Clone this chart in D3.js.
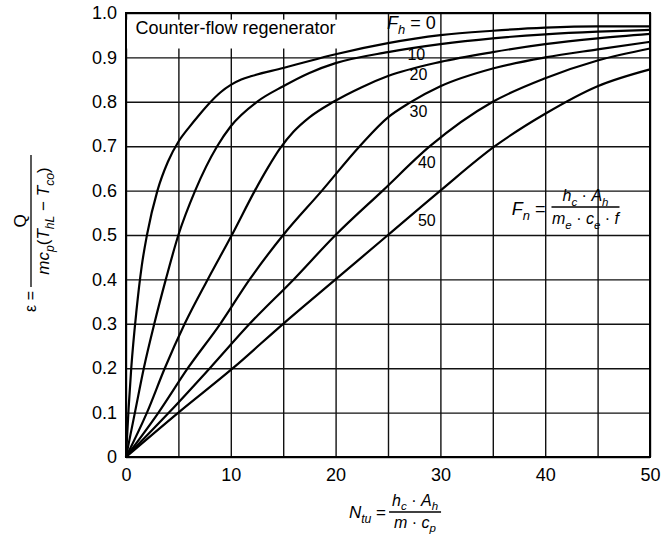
<!DOCTYPE html>
<html>
<head>
<meta charset="utf-8">
<script src="https://cdn.jsdelivr.net/npm/d3@7"></script>
<style>
  body { margin: 0; background: #fff; }
  text { font-family: "Liberation Sans", Arial, sans-serif; fill: #000; }
</style>
</head>
<body>
<div id="chart"></div>
<script>
// values
var fhNames = ["0", "10", "20", "30", "40", "50"];

var ntuF0 = [0, 0.25, 0.5, 1, 1.5, 2, 3, 4, 5, 6, 7, 8, 9, 10, 11, 12, 15, 17.5, 20, 25, 30, 35, 40, 45, 50];
var effF0 = [0, 0.11, 0.2, 0.33, 0.43, 0.5, 0.6, 0.665, 0.71, 0.742, 0.771, 0.798, 0.821, 0.838, 0.85, 0.858, 0.876, 0.892, 0.907, 0.932, 0.95, 0.96, 0.967, 0.97, 0.97];

var ntuF10 = [0, 0.85, 1.7, 2.7, 3.8, 5, 6.6, 8.7, 10, 12.5, 15, 17.5, 20, 25, 30, 35, 40, 45, 50];
var effF10 = [0, 0.1, 0.2, 0.3, 0.4, 0.5, 0.6, 0.7, 0.745, 0.8, 0.835, 0.865, 0.887, 0.912, 0.93, 0.943, 0.952, 0.958, 0.962];

var ntuF20 = [0, 2, 3.7, 5.6, 7.8, 10.1, 12.3, 13.5, 14.7, 16, 17.5, 19.8, 22.5, 25, 30, 35, 40, 45, 50];
var effF20 = [0, 0.1, 0.2, 0.3, 0.4, 0.5, 0.6, 0.65, 0.695, 0.733, 0.765, 0.8, 0.833, 0.858, 0.89, 0.912, 0.93, 0.943, 0.953];

var ntuF30 = [0, 3.1, 5.9, 9, 11.8, 15, 18.7, 22.3, 25, 27, 30, 35, 40, 45, 50];
var effF30 = [0, 0.1, 0.2, 0.3, 0.4, 0.5, 0.6, 0.7, 0.765, 0.797, 0.835, 0.875, 0.9, 0.918, 0.935];

var ntuF40 = [0, 4.1, 8, 11.8, 16, 20, 24.5, 29, 35, 40, 45, 50];
var effF40 = [0, 0.1, 0.2, 0.3, 0.4, 0.5, 0.6, 0.7, 0.8, 0.853, 0.893, 0.92];

var ntuF50 = [0, 5, 10.2, 15, 20, 25, 30, 35.2, 40, 45, 50];
var effF50 = [0, 0.1, 0.2, 0.3, 0.4, 0.5, 0.6, 0.7, 0.773, 0.835, 0.873];

var xTicks = [0, 10, 20, 30, 40, 50];
var xGrid = [0, 5, 10, 15, 20, 25, 30, 35, 40, 45, 50];
var yTicks = [0, 0.1, 0.2, 0.3, 0.4, 0.5, 0.6, 0.7, 0.8, 0.9, 1.0];

var curves = [
  { name: fhNames[0], ntu: ntuF0, eff: effF0 },
  { name: fhNames[1], ntu: ntuF10, eff: effF10 },
  { name: fhNames[2], ntu: ntuF20, eff: effF20 },
  { name: fhNames[3], ntu: ntuF30, eff: effF30 },
  { name: fhNames[4], ntu: ntuF40, eff: effF40 },
  { name: fhNames[5], ntu: ntuF50, eff: effF50 }
];

var width = 662, height = 544;

var svg = d3.select("#chart").append("svg")
    .attr("width", width)
    .attr("height", height);

svg.append("rect").attr("width", width).attr("height", height).attr("fill", "#fff");

var x = d3.scaleLinear().domain([0, 50]).range([126, 650]);
var y = d3.scaleLinear().domain([0, 1]).range([457, 13]);

// grid
var grid = svg.append("g");
grid.append("g")
    .attr("transform", "translate(0," + y(0) + ")")
    .call(d3.axisBottom(x).tickValues(xGrid).tickSize(-(y(0) - y(1))).tickFormat(""));
grid.append("g")
    .attr("transform", "translate(" + x(0) + ",0)")
    .call(d3.axisLeft(y).tickValues(yTicks).tickSize(-(x(50) - x(0))).tickFormat(""));
grid.selectAll(".domain").remove();
grid.selectAll("line").attr("stroke", "#111").attr("stroke-width", 1.4);

// white box behind the title
svg.append("rect")
    .attr("x", x(0) + 1).attr("y", y(0.985))
    .attr("width", x(25) - x(0) - 3).attr("height", y(0.92) - y(0.985))
    .attr("fill", "#fff");

svg.append("text")
    .attr("x", x(0.9)).attr("y", y(0.953))
    .attr("font-size", 18)
    .text("Counter-flow regenerator");

// frame
svg.append("rect")
    .attr("x", x(0)).attr("y", y(1))
    .attr("width", x(50) - x(0)).attr("height", y(0) - y(1))
    .attr("fill", "none").attr("stroke", "#000").attr("stroke-width", 2);

// curves
var line = d3.line()
    .x(function(d) { return x(d[0]); })
    .y(function(d) { return y(d[1]); })
    .curve(d3.curveMonotoneX);

svg.append("g").selectAll("path")
    .data(curves)
    .enter().append("path")
    .attr("d", function(c) { return line(c.ntu.map(function(n, i) { return [n, c.eff[i]]; })); })
    .attr("fill", "none")
    .attr("stroke", "#000")
    .attr("stroke-width", 2.2);

// axis tick labels
var xAxis = svg.append("g")
    .attr("transform", "translate(0," + y(0) + ")")
    .call(d3.axisBottom(x).tickValues(xTicks).tickSize(0).tickPadding(11));
var yAxis = svg.append("g")
    .attr("transform", "translate(" + x(0) + ",0)")
    .call(d3.axisLeft(y).tickValues(yTicks).tickSize(0).tickPadding(9)
      .tickFormat(function(d) { return d === 0 ? "0" : d.toFixed(1); }));
[xAxis, yAxis].forEach(function(a) {
  a.select(".domain").remove();
  a.selectAll("text").attr("font-size", 18).attr("font-family", "Liberation Sans, Arial, sans-serif").attr("fill", "#000");
});

// writes a string made of normal and subscript parts: [text, isSub, isItalic]
function richText(sel, parts, size) {
  var shift = size * 0.28, down = false;
  sel.attr("font-size", size);
  parts.forEach(function(p) {
    var t = sel.append("tspan").text(p[0]);
    if (p[1] && !down) { t.attr("dy", shift); down = true; }
    else if (!p[1] && down) { t.attr("dy", -shift); down = false; }
    t.attr("font-size", p[1] ? size * 0.72 : size);
    if (p[2]) t.attr("font-style", "italic");
  });
  return sel;
}

// curve labels
richText(svg.append("text").attr("x", x(24.9)).attr("y", y(0.965)),
  [["F", false, true], ["h", true, true], [" = 0", false, false]], 18);

var curveLabels = [
  { t: fhNames[1], n: 27.7, e: 0.895 },
  { t: fhNames[2], n: 27.9, e: 0.85 },
  { t: fhNames[3], n: 27.9, e: 0.765 },
  { t: fhNames[4], n: 28.7, e: 0.652 },
  { t: fhNames[5], n: 28.7, e: 0.52 }
];
svg.append("g").selectAll("text")
    .data(curveLabels)
    .enter().append("text")
    .attr("x", function(d) { return x(d.n); })
    .attr("y", function(d) { return y(d.e); })
    .attr("text-anchor", "middle")
    .attr("font-size", 16)
    .text(function(d) { return d.t; });

// F_n formula
var fx = x(40.6), fy = y(0.563);
richText(svg.append("text").attr("x", fx - 6).attr("y", fy + 8).attr("text-anchor", "end"),
  [["F", false, true], ["n", true, true], [" =", false, false]], 18);
svg.append("line").attr("x1", fx).attr("x2", fx + 68).attr("y1", fy).attr("y2", fy)
    .attr("stroke", "#000").attr("stroke-width", 1.5);
richText(svg.append("text").attr("x", fx + 34).attr("y", fy - 6).attr("text-anchor", "middle"),
  [["h", false, true], ["c", true, true], [" \u00b7 ", false, false], ["A", false, true], ["h", true, true]], 16);
richText(svg.append("text").attr("x", fx + 34).attr("y", fy + 17).attr("text-anchor", "middle"),
  [["m", false, true], ["e", true, true], [" \u00b7 ", false, false], ["c", false, true], ["e", true, true], [" \u00b7 ", false, false], ["f", false, true]], 16);

// x axis title
var tx = x(25.1), ty = 512;
richText(svg.append("text").attr("x", tx - 3).attr("y", ty + 6).attr("text-anchor", "end"),
  [["N", false, true], ["tu", true, true], [" =", false, false]], 17);
svg.append("line").attr("x1", tx).attr("x2", tx + 52).attr("y1", ty).attr("y2", ty)
    .attr("stroke", "#000").attr("stroke-width", 1.3);
richText(svg.append("text").attr("x", tx + 26).attr("y", ty - 6).attr("text-anchor", "middle"),
  [["h", false, true], ["c", true, true], [" \u00b7 ", false, false], ["A", false, true], ["h", true, true]], 16);
richText(svg.append("text").attr("x", tx + 26).attr("y", ty + 16).attr("text-anchor", "middle"),
  [["m", false, true], [" \u00b7 ", false, false], ["c", false, true], ["p", true, true]], 16);

// y axis title
var yt = svg.append("g").attr("transform", "translate(31,221) rotate(-90)");
yt.append("line").attr("x1", -66).attr("x2", 66).attr("y1", 0).attr("y2", 0)
    .attr("stroke", "#000").attr("stroke-width", 1.3);
yt.append("text").attr("x", 0).attr("y", -5).attr("text-anchor", "middle")
    .attr("font-size", 17).text("Q");
richText(yt.append("text").attr("x", 0).attr("y", 18).attr("text-anchor", "middle"),
  [["mc", false, true], ["p", true, true], ["(", false, false], ["T", false, true], ["hL", true, true],
   [" \u2212 ", false, false], ["T", false, true], ["co", true, true], [")", false, false]], 17);
yt.append("text").attr("x", -70).attr("y", 5).attr("text-anchor", "end")
    .attr("font-size", 16).text("\u03b5 =");
</script>
</body>
</html>
